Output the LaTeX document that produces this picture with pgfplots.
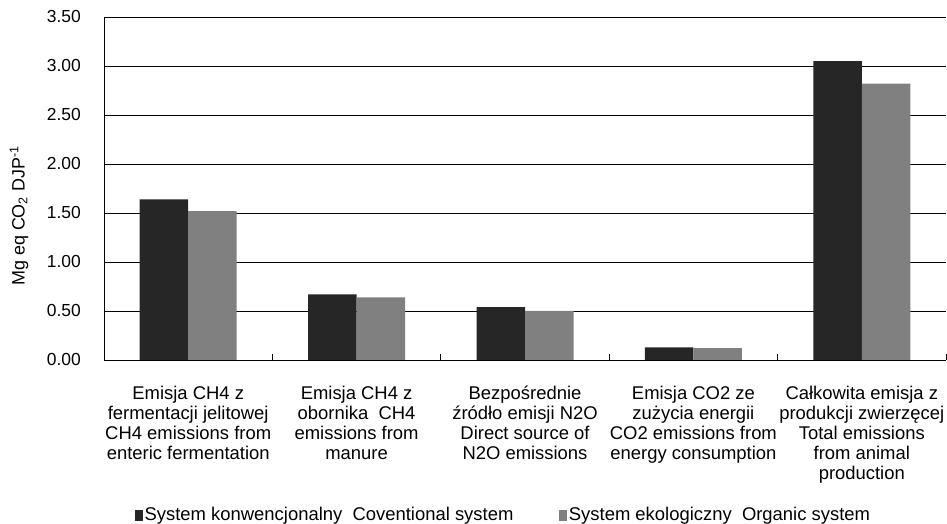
\documentclass[border=0pt]{standalone}
\usepackage{fontspec}
\setmainfont{Liberation Sans}
\usepackage{pgfplots}
\pgfplotsset{compat=1.18}
\definecolor{darkbar}{HTML}{262626}
\definecolor{graybar}{HTML}{808080}
\begin{document}
\begin{tikzpicture}[x=1bp,y=1bp]
\path[use as bounding box] (0,0) rectangle (947,524);
\begin{axis}[
  at={(104bp,164bp)}, anchor=south west,
  scale only axis,
  width=842bp, height=343bp,
  ybar=0pt, bar width=48.5bp,
  xmin=-0.5, xmax=4.5,
  ymin=0, ymax=3.5,
  ytick={0,0.5,...,3.5},
  xtick={-0.5,0.5,1.5,2.5,3.5,4.5},
  x tick label as interval,
  xticklabels={
    {Emisja CH4 z\\fermentacji jelitowej\\CH4 emissions from\\enteric fermentation},
    {Emisja CH4 z\\obornika\ \ CH4\\emissions from\\manure},
    {Bezpośrednie\\źródło emisji N2O\\Direct source of\\N2O emissions},
    {Emisja CO2 ze\\zużycia energii\\CO2 emissions from\\energy consumption},
    {Całkowita emisja z\\produkcji zwierzęcej\\Total emissions\\from animal\\production}},
  xticklabel style={align=center, font=\fontsize{18.5}{20}\selectfont, anchor=north, inner sep=2bp, yshift=-24bp},
  x tick style={draw=black, line width=0.8bp},
  major tick length=6bp,
  tick align=inside,
  axis x line*=bottom, axis y line*=left,
  axis line style={-, black, line width=0.9bp},
  ymajorgrids, major grid style={black, line width=0.8bp},
  y tick style={draw=none},
  /pgf/number format/assume math mode=true,
  yticklabel style={font=\fontsize{17.5}{19}\selectfont, inner sep=2bp, xshift=-21bp},
  yticklabel={\pgfmathprintnumber[fixed,fixed zerofill,precision=2]{\tick}},
  ylabel={Mg eq CO\textsubscript{2} DJP\textsuperscript{-1}},
  ylabel style={font=\fontsize{18}{20}\selectfont, at={(axis description cs:-0.101,0.42)}, anchor=center},
  legend columns=2,
  legend style={at={(axis description cs:0.474,-0.452)}, anchor=center, draw=none, fill=none,
    font=\fontsize{18.5}{20}\selectfont,
    nodes={inner xsep=1.5bp, inner ysep=1bp},
    /tikz/every even column/.append style={column sep=44bp}},
  legend image code/.code={\fill[#1] (0bp,-5.5bp) rectangle (8.5bp,5.5bp);},
]
\addplot[fill=darkbar, draw=none] coordinates {(0,1.64) (1,0.67) (2,0.54) (3,0.13) (4,3.05)};
\addplot[fill=graybar, draw=none] coordinates {(0,1.52) (1,0.64) (2,0.50) (3,0.12) (4,2.82)};
\addlegendentry{System konwencjonalny\ \ Coventional system}
\addlegendentry{System ekologiczny\ \ Organic system}
\end{axis}
\end{tikzpicture}
\end{document}
